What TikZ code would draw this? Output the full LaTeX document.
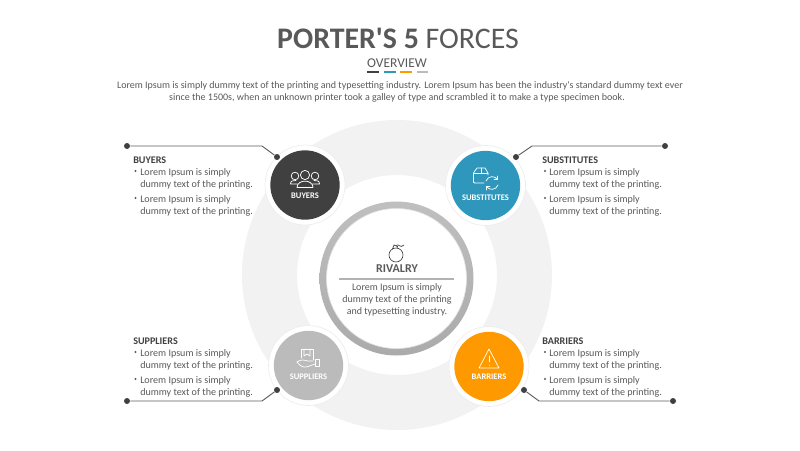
\documentclass[tikz,border=0pt]{standalone}
\usepackage{fontspec}
\setmainfont[Ligatures=TeXOff]{Carlito}
\usetikzlibrary{positioning}
\definecolor{txtgray}{HTML}{595959}
\definecolor{ringgray}{HTML}{F2F2F2}
\definecolor{buyercol}{HTML}{404040}
\definecolor{subcol}{HTML}{3097BC}
\definecolor{suppcol}{HTML}{BBBBBB}
\definecolor{barrcol}{HTML}{FF9900}
\tikzset{
  halo/.style={circle, fill=white, draw=black!7, line width=0.5pt, minimum size=60pt, inner sep=0pt},
  disc/.style={circle, minimum size=52pt, inner sep=0pt},
  dot/.style={circle, fill=buyercol, minimum size=4.5pt, inner sep=0pt},
  leader/.style={draw=buyercol!85, line width=0.7pt},
  head/.style={anchor=west, inner sep=0pt, text=buyercol, font=\bfseries\fontsize{7.6}{10}\selectfont},
  line/.style={anchor=west, inner sep=0pt, yshift=-0.75pt, text=txtgray, font=\fontsize{7.55}{10}\selectfont},
  bul/.style={circle, fill=txtgray, minimum size=1.7pt, inner sep=0pt},
  disctext/.style={inner sep=0pt, text=white, font=\bfseries\fontsize{6.4}{7}\selectfont},
  icon/.style={draw=white, line width=0.55pt, line join=round, line cap=round},
  mid/.style={inner sep=0pt, yshift=-0.75pt, text=txtgray, font=\fontsize{7.5}{10}\selectfont},
  bar/.style={line width=1.4pt}
}
\begin{document}
\begin{tikzpicture}[x=0.75pt, y=-0.75pt]
  \useasboundingbox (0,0) rectangle (800,450);

  % title
  \node[inner sep=0pt, text=txtgray, font=\fontsize{22.4}{28}\selectfont] (title) at (398,38) {\textbf{PORTER'S 5} FORCES};
  \node[inner sep=0pt, text=txtgray, font=\fontsize{10.1}{13}\selectfont] (overview) at (397,63) {OVERVIEW};
  \draw[bar, draw=buyercol] (367,72) -- (379,72);
  \draw[bar, draw=subcol] (384,72) -- (396,72);
  \draw[bar, draw=barrcol] (400,72) -- (412,72);
  \draw[bar, draw=suppcol] (417,72) -- (428,72);
  \node[mid] (introa) at (400,85) {Lorem Ipsum is simply dummy text of the printing and typesetting industry. Lorem Ipsum has been the industry's standard dummy text ever};
  \node[mid] (introb) at (397,97) {since the 1500s, when an unknown printer took a galley of type and scrambled it to make a type specimen book.};

  % big ring
  \fill[ringgray, even odd rule] (397,275) circle (155) (397,275) circle (100);

  % centre
  \node[circle, top color=black!25, bottom color=black!33, minimum size=115.5pt, inner sep=0pt] (rivring) at (396.5,278.5) {};
  \node[circle, fill=white, draw=black!12, line width=0.5pt, minimum size=105pt, inner sep=0pt] (rivcore) at (396.5,278.5) {};
  \draw[draw=buyercol, line width=0.5pt] (396,255) circle (7);
  \draw[draw=buyercol, line width=0.5pt] (392.5,249) -- (394,245) -- (397.5,246.5) -- (397,248.2);
  \draw[draw=buyercol, line width=0.5pt] (396,245.5) .. controls (399,243) and (400,249) .. (404,245);
  \node[inner sep=0pt, text=txtgray, font=\bfseries\fontsize{9}{12}\selectfont] (rivhead) at (397,269) {RIVALRY};
  \draw[draw=black!30, line width=1pt] (339,279) -- (454,279);
  \node[mid] (riva) at (397,287) {Lorem Ipsum is simply};
  \node[mid] (rivb) at (397,299) {dummy text of the printing};
  \node[mid] (rivc) at (397,311) {and typesetting industry.};

  % circles
  \node[halo] (buyhalo) at (305,185) {};
  \node[disc, fill=buyercol] (buydisc) at (305,185) {};
  \node[halo] (subhalo) at (485.5,185.5) {};
  \node[disc, fill=subcol] (subdisc) at (485.5,185.5) {};
  \node[halo] (supphalo) at (308.5,365.5) {};
  \node[disc, fill=suppcol] (suppdisc) at (308.5,365.5) {};
  \node[halo] (barrhalo) at (489,366.5) {};
  \node[disc, fill=barrcol] (barrdisc) at (489,366.5) {};
  \node[disctext] (buytext) at (305,196) {BUYERS};
  \node[disctext] (subtext) at (485.5,198) {SUBSTITUTES};
  \node[disctext] (supptext) at (308.5,377) {SUPPLIERS};
  \node[disctext] (barrtext) at (489,377) {BARRIERS};

  % buyers icon
  \draw[icon] (305,175) circle (4.6);
  \draw[icon] (295,176) circle (3.8);
  \draw[icon] (315,176) circle (3.8);
  \draw[icon] (297,187.5) .. controls (297,179) and (313,179) .. (313,187.5) -- cycle;
  \draw[icon] (297.5,184) -- (290.5,184) .. controls (290.5,180.5) and (293,180.5) .. (296,180.5);
  \draw[icon] (312.5,184) -- (319.5,184) .. controls (319.5,180.5) and (317,180.5) .. (314,180.5);

  % substitutes icon
  \draw[icon] (484,183) -- (474.5,183) -- (473.5,182) -- (473.5,173) -- (477,168) -- (485,168) -- (488,173) -- (488,175);
  \draw[icon] (473.5,173) -- (488,173);
  \draw[icon] (481,168) -- (481,173);
  \draw[icon] (486,181) .. controls (488,175.5) and (495,175.5) .. (497.5,179.5);
  \draw[icon] (497.5,176) -- (497.5,179.5) -- (494,179.5);
  \draw[icon] (498,185) .. controls (496,190.5) and (489,190.5) .. (486.5,186.5);
  \draw[icon] (486.5,190) -- (486.5,186.5) -- (490,186.5);

  % suppliers icon
  \draw[icon] (301,358) -- (301,349) -- (313,349) -- (313,360);
  \draw[icon] (304,349) -- (304,356) -- (307,354) -- (310,356) -- (310,349);
  \draw[icon] (297,362) .. controls (301,359) and (304,360) .. (308,361) -- (313,361);
  \draw[icon] (297,362) .. controls (301,367) and (304,368) .. (308,366.5) -- (315,364);
  \draw[icon] (315,359) rectangle (319,366);

  % barriers icon
  \draw[icon] (489,349) -- (499,368) -- (479,368) -- cycle;
  \draw[icon] (489,356) -- (489,362);
  \draw[icon] (489,365) -- (489,365.2);

  % connectors
  \node[dot] (buyend) at (127,146) {};
  \node[dot] (buytip) at (277,157) {};
  \coordinate (buykink) at (262,146);
  \draw[leader] (buyend) -- (buykink) -- (buytip);
  \node[dot] (subend) at (665,146) {};
  \node[dot] (subtip) at (516,157) {};
  \coordinate (subkink) at (532,146);
  \draw[leader] (subend) -- (subkink) -- (subtip);
  \node[dot] (suppend) at (127,401) {};
  \node[dot] (supptip) at (277,390) {};
  \coordinate (suppkink) at (262,401);
  \draw[leader] (suppend) -- (suppkink) -- (supptip);
  \node[dot] (barrend) at (673,401) {};
  \node[dot] (barrtip) at (524,390) {};
  \coordinate (barrkink) at (539,401);
  \draw[leader] (barrend) -- (barrkink) -- (barrtip);

  % buyers text
  \node[head] (buyhead) at (133,160) {BUYERS};
  \node[bul] (buybula) at (135.5,171) {};
  \node[line] (buya) at (140,172) {Lorem Ipsum is simply};
  \node[line] (buyb) at (140,184) {dummy text of the printing.};
  \node[bul] (buybulb) at (135.5,198) {};
  \node[line] (buyc) at (140,199) {Lorem Ipsum is simply};
  \node[line] (buyd) at (140,211) {dummy text of the printing.};

  % substitutes text
  \node[head] (subhead) at (542,160) {SUBSTITUTES};
  \node[bul] (subbula) at (545,171) {};
  \node[line] (suba) at (549,172) {Lorem Ipsum is simply};
  \node[line] (subb) at (549,184) {dummy text of the printing.};
  \node[bul] (subbulb) at (545,198) {};
  \node[line] (subc) at (549,199) {Lorem Ipsum is simply};
  \node[line] (subd) at (549,211) {dummy text of the printing.};

  % suppliers text
  \node[head] (supphead) at (133,341) {SUPPLIERS};
  \node[bul] (suppbula) at (135.5,352) {};
  \node[line] (suppa) at (140,353) {Lorem Ipsum is simply};
  \node[line] (suppb) at (140,365) {dummy text of the printing.};
  \node[bul] (suppbulb) at (135.5,379) {};
  \node[line] (suppc) at (140,380) {Lorem Ipsum is simply};
  \node[line] (suppd) at (140,392) {dummy text of the printing.};

  % barriers text
  \node[head] (barrhead) at (542,341) {BARRIERS};
  \node[bul] (barrbula) at (545,352) {};
  \node[line] (barra) at (549,353) {Lorem Ipsum is simply};
  \node[line] (barrb) at (549,365) {dummy text of the printing.};
  \node[bul] (barrbulb) at (545,379) {};
  \node[line] (barrc) at (549,380) {Lorem Ipsum is simply};
  \node[line] (barrd) at (549,392) {dummy text of the printing.};
\end{tikzpicture}
\end{document}
